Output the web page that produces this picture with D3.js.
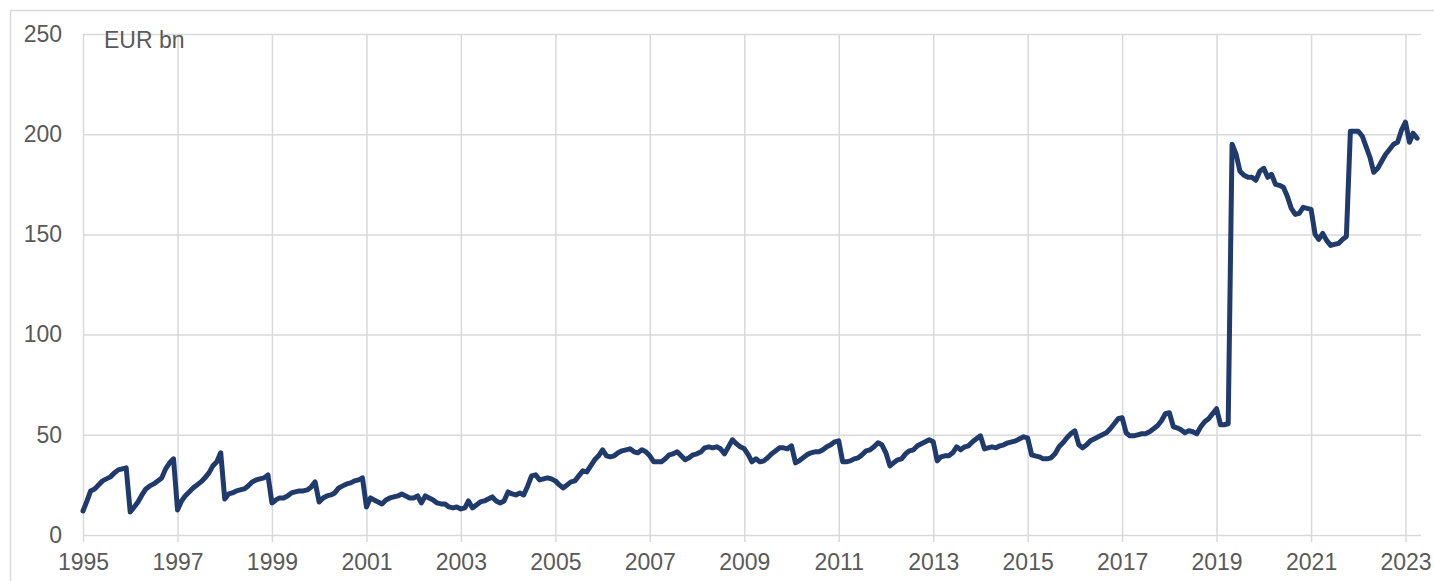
<!DOCTYPE html>
<html>
<head>
<meta charset="utf-8">
<script src="https://cdn.jsdelivr.net/npm/d3@7"></script>
<style>
  html, body { margin: 0; padding: 0; background: #fff; }
  svg { display: block; font-family: "Liberation Sans", Arial, sans-serif; }
</style>
</head>
<body>
<div id="chart"></div>
<script>
// monthly values, EUR bn, Jan 1995 .. Apr 2023
var startYear = 1995,
    unitLabel = "EUR bn",
    yTicks = [0, 50, 100, 150, 200, 250],
    xTickYears = [1995, 1997, 1999, 2001, 2003, 2005, 2007, 2009, 2011, 2013, 2015, 2017, 2019, 2021, 2023];

var values = [
  12, 17, 22, 23, 25, 27, 28, 29, 31, 32.5, 33, 33.5,              // 1995
  11.5, 14, 16.5, 20, 23, 24.5, 25.5, 27, 28.5, 33, 36, 38,        // 1996
  12.5, 17, 19.5, 21.5, 23.5, 25, 26.5, 28.5, 31, 34.5, 36.5, 41,  // 1997
  18, 20.5, 21, 22, 22.5, 23, 24.5, 26.5, 27.5, 28, 28.5, 30,      // 1998
  16, 17.5, 18.5, 18.5, 19.5, 21, 21.5, 22, 22, 22.5, 24, 26.5,    // 1999
  16.5, 18.5, 19.5, 20, 21, 23.5, 24.5, 25.5, 26, 27, 27.5, 28.5,  // 2000
  14, 18.5, 17.5, 16.5, 15.5, 17.5, 18.5, 19, 19.5, 20.5, 19.5, 18.5, // 2001
  18.5, 19.5, 16, 19.5, 18.5, 17.5, 16, 15.5, 15.5, 14, 13.5, 14,  // 2002
  13, 13.5, 17, 13.5, 15, 16.5, 17, 18, 19, 17, 16, 17,            // 2003
  21.5, 20.5, 20, 21, 20, 24.5, 29.5, 30, 27.5, 28, 28.5, 28,      // 2004
  27, 25, 23.5, 25, 26.5, 27, 29.5, 32, 31.5, 34.5, 37.5, 39.5,    // 2005
  42.5, 39.5, 39, 39.5, 41, 42, 42.5, 43, 41.5, 41, 42.5, 41.5,    // 2006
  39.5, 36.5, 36.5, 36.5, 38, 40, 40.5, 41.5, 39.5, 37.5, 38.5, 40, // 2007
  40.5, 41.5, 43.5, 44, 43.5, 44, 43, 40.5, 44, 47.5, 45.5, 44,    // 2008
  43, 40, 36.5, 38, 36.5, 37, 38.5, 40.5, 42, 43.5, 43.5, 43,      // 2009
  44.5, 36, 37, 38.5, 40, 41, 41.5, 41.5, 42.5, 44, 45, 46.5,      // 2010
  47, 36.5, 36.5, 37, 38, 38.5, 40, 42, 42.5, 44, 46, 45,          // 2011
  41, 34.5, 36, 37.5, 38, 40.5, 42, 42.5, 44.5, 45.5, 46.5, 47.5,  // 2012
  46.5, 37, 39, 39.5, 39.5, 41, 44, 42.5, 44, 44.5, 46.5, 48,      // 2013
  49.5, 43, 43.5, 44, 43.5, 44.5, 45, 46, 46.5, 47, 48, 49,        // 2014
  48.5, 40, 39.5, 39, 38, 38, 38.5, 40.5, 44, 46, 48.5, 50.5,      // 2015
  52, 45, 43.5, 45, 47, 48, 49, 50, 51, 53, 55.5, 58,              // 2016
  58.5, 51, 49.5, 49.5, 50, 50.5, 50.5, 51.5, 53, 54.5, 57, 60.5,  // 2017
  61, 54, 53.5, 52.5, 51, 52, 51.5, 50.5, 54, 56.5, 58, 60.5,      // 2018
  63, 55, 55, 55.5, 195, 190, 181.5, 179.5, 178.5, 178.5, 177, 181.5, // 2019
  183, 178.5, 180, 175, 174.5, 173.5, 169, 163, 160, 160.5, 163.5, 163, // 2020
  162.5, 150, 147.5, 150.5, 147, 144.5, 145, 145.5, 147.5, 149, 201.5, 201.5, // 2021
  201.5, 199, 194, 188.5, 181, 183, 186.5, 190, 192.5, 195, 196, 202, // 2022
  206, 196, 200.5, 198                                            // 2023
];

var width = 1434,
    height = 581,
    marginLeft = 83,
    marginRight = 13,
    marginTop = 34,
    marginBottom = 46,
    grey = "#d9d9d9",
    textColor = "#595959",
    lineColor = "#1f3a6b";

var data = values.map(function(v, i){
    return { D: new Date(Date.UTC(startYear, i, 1)), P: v };
});

var svg = d3.select("#chart")
            .append("svg")
              .attr("width", width)
              .attr("height", height);

// outer frame
svg.append("rect")
    .attr("x", 10.5)
    .attr("y", 10.5)
    .attr("width", width + 20)
    .attr("height", height + 20)
    .style("fill", "none")
    .style("stroke", grey)
    .style("stroke-width", 1.5);

var x = d3.scaleUtc()
          .domain([new Date(Date.UTC(1995, 0, 1)), new Date(Date.UTC(2023, 4, 1))])
          .range([marginLeft, width - marginRight]);

var y = d3.scaleLinear()
          .domain([0, 250])
          .range([height - marginBottom, marginTop]);

// horizontal grid + y labels
var yAxis = d3.axisLeft(y)
    .tickValues(yTicks)
    .tickSize(-(width - marginRight - marginLeft))
    .tickPadding(21)
    .tickFormat(d3.format("d"));

var gy = svg.append("g")
    .attr("transform", "translate(" + marginLeft + ",0)")
    .call(yAxis);
gy.select(".domain").remove();
gy.selectAll("line").style("stroke", grey).style("stroke-width", 1.5);
gy.selectAll("text")
    .style("font-size", "23px")
    .style("fill", textColor);

// vertical grid + x labels
var xAxis = d3.axisBottom(x)
    .tickValues(xTickYears.map(function(yr){ return new Date(Date.UTC(yr, 0, 1)); }))
    .tickSize(-(height - marginBottom - marginTop))
    .tickPadding(14)
    .tickFormat(d3.utcFormat("%Y"));

var gx = svg.append("g")
    .attr("transform", "translate(0," + (height - marginBottom) + ")")
    .call(xAxis);
gx.select(".domain").remove();
gx.selectAll("line")
    .attr("y2", -(height - marginBottom - marginTop))
    .attr("y1", 7)
    .style("stroke", grey)
    .style("stroke-width", 1.5);
gx.selectAll("text")
    .attr("y", 14)
    .attr("dy", "0.9em")
    .style("font-size", "23px")
    .style("fill", textColor);

// unit label
svg.append("text")
    .attr("x", 104)
    .attr("y", 48)
    .style("font-size", "23px")
    .style("fill", textColor)
    .text(unitLabel);

var valueline = d3.line()
    .x(function(d) { return x(d.D); })
    .y(function(d) { return y(d.P); });

svg.append("path")
    .datum(data)
    .attr("d", valueline)
    .style("fill", "none")
    .style("stroke", lineColor)
    .style("stroke-width", 5)
    .style("stroke-linejoin", "round")
    .style("stroke-linecap", "round");
</script>
</body>
</html>
